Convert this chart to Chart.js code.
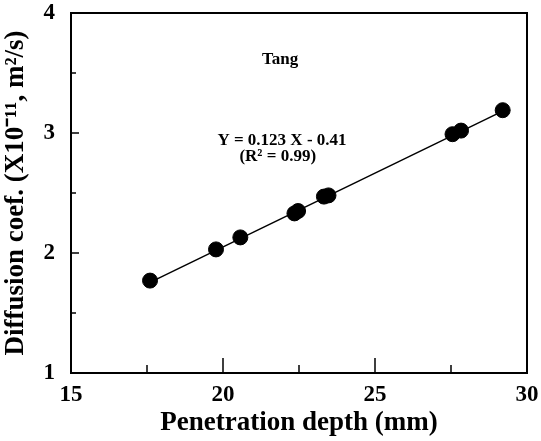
<!DOCTYPE html>
<html>
<head>
<meta charset="utf-8">
<script src="https://cdn.jsdelivr.net/npm/chart.js@4"></script>
<style>
  html, body { margin: 0; padding: 0; background: #fff; }
  #wrap { width: 541px; height: 441px; }
</style>
</head>
<body>
<div id="wrap"><canvas id="myChart" width="541" height="441"></canvas></div>
<script>
// data
const depth = [17.6, 19.77, 20.57, 22.35, 22.47, 23.32, 23.47, 27.55, 27.83, 29.2];
const diffusion = [1.77, 2.03, 2.13, 2.33, 2.35, 2.47, 2.48, 2.99, 3.02, 3.19];
const fitX = [17.6, 29.2];
const fitY = [1.755, 3.182];
const xTickLabels = [15, 20, 25, 30];
const yTickLabels = [1, 2, 3, 4];

const serif = '"Liberation Serif", "Times New Roman", serif';

// frame and inward tick marks
const framePlugin = {
  id: 'frame',
  afterDatasetsDraw(chart) {
    const ctx = chart.ctx;
    const a = chart.chartArea;
    const xs = chart.scales.x, ys = chart.scales.y;
    ctx.save();
    ctx.strokeStyle = '#000';
    ctx.lineWidth = 2;
    ctx.strokeRect(a.left, a.top, a.right - a.left, a.bottom - a.top);
    ctx.lineWidth = 1.5;
    ctx.beginPath();
    xs.ticks.forEach(t => {
      if (t.value <= xs.min || t.value >= xs.max) return;
      const px = xs.getPixelForValue(t.value);
      const len = t.value % 5 === 0 ? 15 : 8;
      ctx.moveTo(px, a.bottom);
      ctx.lineTo(px, a.bottom - len);
    });
    ys.ticks.forEach(t => {
      if (t.value <= ys.min || t.value >= ys.max) return;
      const py = ys.getPixelForValue(t.value);
      const len = t.value % 1 === 0 ? 8 : 5;
      ctx.moveTo(a.left, py);
      ctx.lineTo(a.left + len, py);
    });
    ctx.stroke();

    ctx.fillStyle = '#000';
    ctx.textAlign = 'center';
    ctx.textBaseline = 'middle';
    ctx.font = 'bold 17px ' + serif;
    ctx.fillText('Tang', xs.getPixelForValue(21.88), ys.getPixelForValue(3.61));
    ctx.fillText('Y = 0.123 X - 0.41', xs.getPixelForValue(21.94), ys.getPixelForValue(2.94));
    ctx.fillText('(R\u00B2 = 0.99)', xs.getPixelForValue(21.8), ys.getPixelForValue(2.80));
    ctx.restore();
  }
};

new Chart(document.getElementById('myChart'), {
  type: 'scatter',
  data: {
    datasets: [{
      label: 'Fit',
      type: 'line',
      data: fitX.map((x, i) => ({ x: x, y: fitY[i] })),
      borderColor: '#000',
      borderWidth: 1.5,
      pointRadius: 0,
      fill: false
    }, {
      label: 'Tang',
      data: depth.map((x, i) => ({ x: x, y: diffusion[i] })),
      backgroundColor: '#000',
      borderColor: '#000',
      pointRadius: 7.5,
      pointHoverRadius: 7.5
    }]
  },
  plugins: [framePlugin],
  options: {
    responsive: false,
    animation: false,
    layout: { padding: { top: 13, right: 14, left: 0, bottom: 0 } },
    plugins: { legend: { display: false }, tooltip: { enabled: false } },
    scales: {
      x: {
        type: 'linear',
        min: 15, max: 30,
        afterFit(scale) {
          scale.height = 68;
          scale.paddingLeft = 0;
          scale.paddingRight = 0;
        },
        ticks: {
          stepSize: 2.5,
          autoSkip: false,
          maxRotation: 0,
          padding: 3,
          color: '#000',
          font: { family: serif, size: 23, weight: 'bold', lineHeight: 1 },
          callback: v => xTickLabels.includes(v) ? String(v) : ''
        },
        grid: { display: false },
        border: { display: false },
        title: {
          display: true,
          text: 'Penetration depth (mm)',
          color: '#000',
          font: { family: serif, size: 27, weight: 'bold' },
          padding: { top: 0, bottom: 2 }
        }
      },
      y: {
        type: 'linear',
        min: 1, max: 4,
        afterFit(scale) {
          scale.width = 71;
          scale.paddingTop = 0;
          scale.paddingBottom = 0;
        },
        ticks: {
          stepSize: 0.5,
          autoSkip: false,
          padding: 8,
          color: '#000',
          font: { family: serif, size: 23, weight: 'bold', lineHeight: 1 },
          callback: v => yTickLabels.includes(v) ? String(v) : ''
        },
        grid: { display: false },
        border: { display: false },
        title: {
          display: true,
          text: 'Diffusion coef. (X10\u207B\u00B9\u00B9, m\u00B2/s)',
          color: '#000',
          font: { family: serif, size: 27, weight: 'bold' },
          padding: { top: 0, bottom: 6 }
        }
      }
    }
  }
});
</script>
</body>
</html>
